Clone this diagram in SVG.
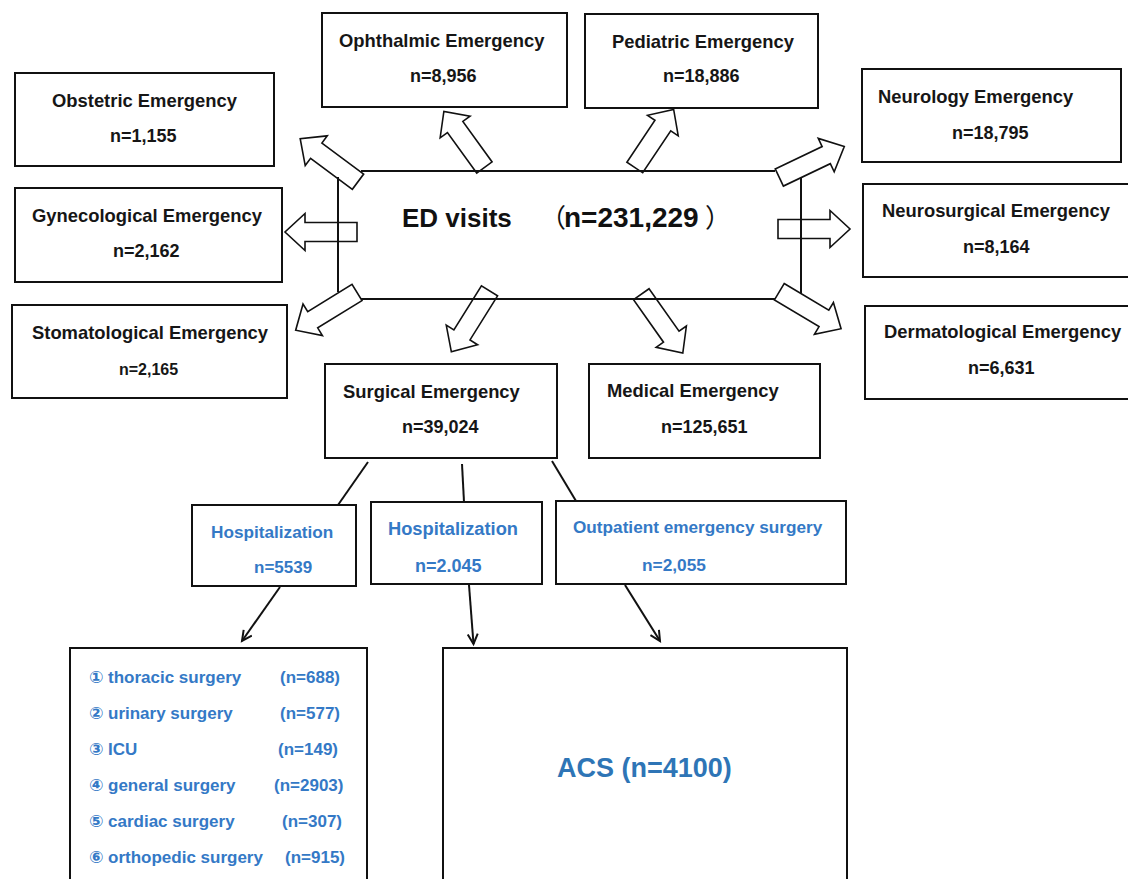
<svg xmlns="http://www.w3.org/2000/svg" width="1128" height="879" viewBox="0 0 1128 879">
<style>
.box{fill:none;stroke:#111;stroke-width:2}
.t{font-family:"Liberation Sans",Arial,sans-serif;font-weight:bold;font-size:18.4px;fill:#161616}
.n{font-family:"Liberation Sans",Arial,sans-serif;font-weight:bold;font-size:18px;fill:#161616}
.b{font-family:"Liberation Sans",Arial,"DejaVu Sans","Noto Sans CJK SC",sans-serif;font-weight:bold;fill:#3479c6}
.li{font-size:17px}
.ln{fill:none;stroke:#111;stroke-width:2}
.barrow{fill:#fff;stroke:#111;stroke-width:1.6;stroke-linejoin:miter}
.par{font-family:"Noto Sans CJK SC",sans-serif;font-weight:normal;font-size:26px;fill:#111}
</style>
<defs>
<polygon id="ba" points="0,-9.5 52,-9.5 52,-18.5 72,0 52,18.5 52,9.5 0,9.5"/>
<marker id="ah" markerUnits="userSpaceOnUse" markerWidth="14" markerHeight="14" refX="11" refY="6" orient="auto">
<path d="M1,1 L11,6 L1,11" fill="none" stroke="#111" stroke-width="2"/>
</marker>
</defs>
<rect width="1128" height="879" fill="#fff"/>

<g id="connectors">
<use href="#ba" class="barrow" transform="translate(358,181.7) rotate(216.6)"/>
<use href="#ba" class="barrow" transform="translate(484.4,167.5) rotate(234.1) scale(0.96,1)"/>
<use href="#ba" class="barrow" transform="translate(634.8,167.5) rotate(-56.2) scale(0.97,1)"/>
<use href="#ba" class="barrow" transform="translate(779.3,177.5) rotate(-25.5)"/>
<use href="#ba" class="barrow" transform="translate(357,232) rotate(180)"/>
<use href="#ba" class="barrow" transform="translate(778,229) rotate(0)"/>
<use href="#ba" class="barrow" transform="translate(357,292.5) rotate(148.4)"/>
<use href="#ba" class="barrow" transform="translate(489.5,290.8) rotate(122)"/>
<use href="#ba" class="barrow" transform="translate(641.3,294.2) rotate(54.8)"/>
<use href="#ba" class="barrow" transform="translate(779.3,291.7) rotate(30.9)"/>
<line class="ln" x1="368" y1="462" x2="338" y2="505"/>
<line class="ln" x1="462" y1="464" x2="464" y2="502"/>
<line class="ln" x1="552" y1="461" x2="576" y2="501"/>
<line class="ln" x1="280" y1="587" x2="242" y2="641" marker-end="url(#ah)"/>
<line class="ln" x1="469" y1="585" x2="473.5" y2="644" marker-end="url(#ah)"/>
<line class="ln" x1="625" y1="585" x2="660" y2="641" marker-end="url(#ah)"/>
</g>

<g id="ed-visits">
<line class="ln" x1="361" y1="171" x2="775" y2="171"/>
<line class="ln" x1="361" y1="299" x2="775" y2="299"/>
<line class="ln" x1="338" y1="177" x2="338" y2="292"/>
<line class="ln" x1="801" y1="178" x2="801" y2="293"/>
<text x="402" y="227" style="font-family:'Liberation Sans',Arial,sans-serif;font-weight:bold;font-size:26px;fill:#111">ED visits</text>
<text class="par" x="540" y="227">（</text>
<text x="564" y="227" style="font-family:'Liberation Sans',Arial,sans-serif;font-weight:bold;font-size:28px;fill:#111">n=231,229</text>
<text class="par" x="705" y="227">）</text>
</g>

<g id="ophthalmic">
<rect class="box" x="322" y="13" width="245" height="94"/>
<text class="t" x="339" y="47">Ophthalmic Emergency</text>
<text class="n" x="410" y="82">n=8,956</text>
</g>
<g id="pediatric">
<rect class="box" x="585" y="14" width="233" height="94"/>
<text class="t" x="612" y="48">Pediatric Emergency</text>
<text class="n" x="663" y="82">n=18,886</text>
</g>
<g id="obstetric">
<rect class="box" x="15" y="73" width="259" height="93"/>
<text class="t" x="52" y="107">Obstetric Emergency</text>
<text class="n" x="110" y="142">n=1,155</text>
</g>
<g id="gynecological">
<rect class="box" x="15" y="188" width="267" height="94"/>
<text class="t" x="32" y="222">Gynecological Emergency</text>
<text class="n" x="113" y="257">n=2,162</text>
</g>
<g id="stomatological">
<rect class="box" x="12" y="305" width="275" height="93"/>
<text class="t" x="32" y="339">Stomatological Emergency</text>
<text class="n" x="119" y="375" style="font-size:16px">n=2,165</text>
</g>
<g id="neurology">
<rect class="box" x="862" y="69" width="259" height="93"/>
<text class="t" x="878" y="103">Neurology Emergency</text>
<text class="n" x="952" y="139">n=18,795</text>
</g>
<g id="neurosurgical">
<rect class="box" x="863" y="184" width="280" height="93"/>
<text class="t" x="882" y="217">Neurosurgical Emergency</text>
<text class="n" x="963" y="253">n=8,164</text>
</g>
<g id="dermatological">
<rect class="box" x="865" y="306" width="280" height="93"/>
<text class="t" x="884" y="338">Dermatological Emergency</text>
<text class="n" x="968" y="374">n=6,631</text>
</g>
<g id="surgical">
<rect class="box" x="325" y="364" width="232" height="94"/>
<text class="t" x="343" y="398">Surgical Emergency</text>
<text class="n" x="402" y="433">n=39,024</text>
</g>
<g id="medical">
<rect class="box" x="589" y="364" width="231" height="94"/>
<text class="t" x="607" y="397">Medical Emergency</text>
<text class="n" x="661" y="433">n=125,651</text>
</g>
<g id="hospitalization-1">
<rect class="box" x="192" y="505" width="164" height="81"/>
<text class="b" x="211" y="538" style="font-size:17.2px">Hospitalization</text>
<text class="b" x="254" y="573" style="font-size:17px">n=5539</text>
</g>
<g id="hospitalization-2">
<rect class="box" x="371" y="502" width="171" height="82"/>
<text class="b" x="388" y="535" style="font-size:18.3px">Hospitalization</text>
<text class="b" x="415" y="572" style="font-size:18px">n=2.045</text>
</g>
<g id="outpatient">
<rect class="box" x="556" y="501" width="290" height="83"/>
<text class="b" x="573" y="533" style="font-size:17.2px">Outpatient emergency surgery</text>
<text class="b" x="642" y="571" style="font-size:17.3px">n=2,055</text>
</g>
<g id="hospital-list">
<rect class="box" x="70" y="648" width="297" height="250"/>
<text class="b li" x="89" y="683">①</text><text class="b li" x="108" y="683">thoracic surgery</text><text class="b li" x="280" y="683">(n=688)</text>
<text class="b li" x="89" y="719">②</text><text class="b li" x="108" y="719">urinary surgery</text><text class="b li" x="280" y="719">(n=577)</text>
<text class="b li" x="89" y="755">③</text><text class="b li" x="108" y="755">ICU</text><text class="b li" x="278" y="755">(n=149)</text>
<text class="b li" x="89" y="791">④</text><text class="b li" x="108" y="791">general surgery</text><text class="b li" x="274" y="791">(n=2903)</text>
<text class="b li" x="89" y="827">⑤</text><text class="b li" x="108" y="827">cardiac surgery</text><text class="b li" x="282" y="827">(n=307)</text>
<text class="b li" x="89" y="863">⑥</text><text class="b li" x="108" y="863">orthopedic surgery</text><text class="b li" x="285" y="863">(n=915)</text>
</g>
<g id="acs">
<rect class="box" x="443" y="648" width="404" height="250"/>
<text x="557" y="777" style="font-family:'Liberation Sans',Arial,sans-serif;font-weight:bold;font-size:27px;fill:#2e75b6">ACS (n=4100)</text>
</g>
</svg>
